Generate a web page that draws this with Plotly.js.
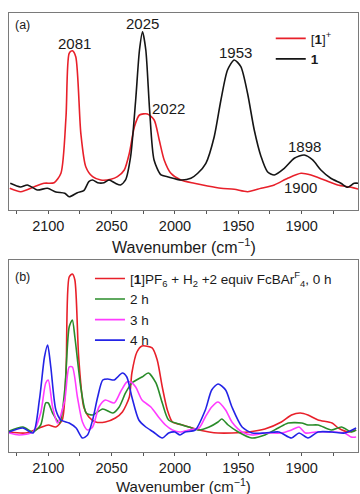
<!DOCTYPE html>
<html>
<head>
<meta charset="utf-8">
<script src="https://cdn.plot.ly/plotly-3.0.1.min.js"></script>
<style>html,body{margin:0;padding:0;background:#fff;}#chart{width:360px;height:494px;}</style>
</head>
<body>
<div id="chart"></div>
<script>
// ---------- Panel (a) ----------
const a_cat_wn = [2130,2122,2116.5,2108.6,2100.7,2094,2087,2083.5,2077,2072,2068,2065,2061,2056,2052,2047,2043,2039,2035,2031,2028,2025.6,2023,2020,2016.5,2011,2006,1995.3,1987.4,1982,1975.6,1969,1963.7,1958.5,1953.2,1948,1942.7,1937.4,1932,1927,1921.6,1913.7,1905.8,1897.9,1891.3,1884.8,1877,1869,1863.7,1858.5,1854.5];
const a_neutral = [26.7,23,25,20,21.7,18,16.7,13.3,17.3,19.3,28.3,30,27.3,27.3,30,26.7,25,30,53.3,110,160,178.3,160,100,50,35,33.3,30,31.7,36.7,46.7,73.3,110,140,150,143.3,116.7,80,53.3,38.3,35,41.7,51.7,55,50,40,31.7,26.7,22.7,26.7,26.7];

const a_cat_wn_ox = [2130.4,2121.7,2111,2103.3,2095.4,2090,2086,2083.5,2081,2078.3,2074.3,2070.4,2065,2058.5,2050.6,2045.4,2040,2036,2032,2028,2021.7,2016.4,2012.4,2008.5,2003.2,1995.3,1984.8,1974.3,1963.7,1953.2,1942.7,1932,1921.6,1911,1900.5,1892.6,1882,1871.6,1861,1854.5];
const a_cation = [21.7,18.3,23.3,26.7,27.3,36.7,93.3,156.7,159.3,153.3,76.7,43.3,33.3,30,30.7,33.3,40,56.7,83.3,95,96,90,70,50,36.7,30,26.7,24,21.7,20.7,18.3,21.7,25,31.7,36.7,35,30,25,22.7,20.7];

const a_label_text = ["2081","2025","1953","2022","1898","1900"];
const a_label_wn   = [2079,2025.4,1952,2004.8,1897.4,1901];
const a_label_y    = [167,187,158,101,63,22];

// ---------- Panel (b) ----------
const b_wn_0h = [2131,2118,2107,2100,2094,2089,2086,2083.5,2081,2079,2076,2072,2068,2062.5,2055,2047,2041.5,2036,2034,2030,2026,2018,2014,2010,2006,2002,1994,1989,1981,1973,1966,1955,1942,1929,1916,1908,1901,1895,1887,1876,1871,1863,1857];
const b_0h = [20,19,24,27,25,32,79,175,178,172,95,45,35,30,30,34,40,55,79,100,106,104,92,65,42,30,27,25,22,20,19,19,20,23,30,37,39,37,32,29,24,20,22];

const b_wn_2h = [2131,2120,2112,2106,2102,2100,2096.6,2091,2087,2083.5,2081,2079,2074,2070,2065,2057,2049,2044,2039,2034,2026,2021,2015,2010,2005,1997,1989,1981,1973,1966,1963,1958,1950,1939.4,1929,1918.5,1910.6,1900,1895,1887,1876.5,1868.6,1860.7,1857];
const b_2h = [21,25,20,27,49,49,39,29,62,125,132,115,62,39,37,43,39,45,59,69,75,79,69,49,32,28,25,22,25,30,33,27,20,14,17,24,29,29,27,27,22,25,20,22];

const b_wn_3h = [2131,2123,2112,2106,2102,2100,2096.6,2092.7,2087,2083.5,2081,2077,2073,2069,2065,2060,2055,2048,2043,2038,2035,2031,2026,2019,2013,2007.5,2002,1996,1989,1981,1976,1971,1966,1960,1955,1947,1939,1929,1916,1908,1902,1897,1889,1876,1866,1861,1857];
const b_3h = [19,17,20,39,69,72,45,29,52,85,85,55,30,22,25,45,52,49,60,70,70,65,52,45,35,27,22,20,22,24,35,45,50,42,30,20,17,19,19,22,25,19,20,20,19,15,15];

const b_wn_4h = [2131,2120,2112,2107,2103,2100.5,2098,2094,2090,2083.5,2078,2073,2069,2065,2061,2057,2053,2048,2041.5,2038,2034,2028.5,2023,2017,2010,2005,2000,1996,1992,1984,1976,1971,1966,1960,1955,1947,1939,1929,1918,1908,1902,1895,1887,1876,1866,1857];
const b_4h = [20,24,19,52,95,107,85,42,32,29,24,14,17,32,55,72,73,72,79,75,55,32,25,20,14,19,20,17,20,22,42,62,68,62,45,25,19,19,20,14,19,14,20,20,19,24];

const b_names = ["[<b>1</b>]PF<sub>6</sub> + H<sub>2</sub> +2 equiv FcBAr<sup>F</sup><sub>4</sub>, 0 h","2 h","3 h","4 h"];
const xTitle = "Wavenumber (cm<sup>−1</sup>)";

const FONT = "Arial, 'Liberation Sans', sans-serif";
const RED = "#e8202a", BLACK = "#151515", GREEN = "#2a8c2a", MAG = "#ff3cff", BLUE = "#2323e6";
const LW = 1.6;

const lineOpt = (c) => ({color: c, width: LW, shape: 'spline', smoothing: 0.7});

const traces = [
  {x: a_cat_wn_ox, y: a_cation, type: 'scatter', mode: 'lines', name: "[<b>1</b>]<sup>+</sup>", line: lineOpt(RED), xaxis: 'x', yaxis: 'y', legend: 'legend'},
  {x: a_cat_wn, y: a_neutral, type: 'scatter', mode: 'lines', name: "<b>1</b>", line: lineOpt(BLACK), xaxis: 'x', yaxis: 'y', legend: 'legend'},
  {x: b_wn_0h, y: b_0h, type: 'scatter', mode: 'lines', name: b_names[0], line: lineOpt(RED), xaxis: 'x2', yaxis: 'y2', legend: 'legend2'},
  {x: b_wn_2h, y: b_2h, type: 'scatter', mode: 'lines', name: b_names[1], line: lineOpt(GREEN), xaxis: 'x2', yaxis: 'y2', legend: 'legend2'},
  {x: b_wn_3h, y: b_3h, type: 'scatter', mode: 'lines', name: b_names[2], line: lineOpt(MAG), xaxis: 'x2', yaxis: 'y2', legend: 'legend2'},
  {x: b_wn_4h, y: b_4h, type: 'scatter', mode: 'lines', name: b_names[3], line: lineOpt(BLUE), xaxis: 'x2', yaxis: 'y2', legend: 'legend2'}
];

const xax = (anchor) => ({
  anchor: anchor, range: [2131, 1855.5], autorange: false,
  tick0: 2100, dtick: 50, ticks: 'outside', ticklen: 3, tickwidth: 1, tickcolor: '#555',
  minor: {tick0: 2125, dtick: 50, ticks: 'outside', ticklen: 3, tickwidth: 1, tickcolor: '#555'},
  showline: true, mirror: true, linecolor: '#7a7a7a', linewidth: 1,
  showgrid: false, zeroline: false,
  tickfont: {family: FONT, size: 14.5, color: '#1a1a1a'}
});
const yax = (domain, range, anchor) => ({
  domain: domain, range: range, anchor: anchor,
  showticklabels: false, ticks: '', showline: true, mirror: true,
  linecolor: '#7a7a7a', linewidth: 1, showgrid: false, zeroline: false
});

const annotations = [];
for (let i = 0; i < a_label_text.length; i++) {
  annotations.push({x: a_label_wn[i], y: a_label_y[i], xref: 'x', yref: 'y', text: a_label_text[i], showarrow: false,
    font: {family: FONT, size: 15, color: '#1a1a1a'}, xanchor: 'center', yanchor: 'middle'});
}
annotations.push({x: 2128, y: 185, xref: 'x', yref: 'y', text: '(a)', showarrow: false, xanchor: 'left', yanchor: 'middle', font: {family: FONT, size: 12.5, color: '#1a1a1a'}});
annotations.push({x: 2127.5, y: 175, xref: 'x2', yref: 'y2', text: '(b)', showarrow: false, xanchor: 'left', yanchor: 'middle', font: {family: FONT, size: 12.5, color: '#1a1a1a'}});
annotations.push({x: 0.5, y: 0.469, xref: 'paper', yref: 'paper', text: xTitle, showarrow: false, xanchor: 'center', yanchor: 'middle', font: {family: FONT, size: 16, color: '#1a1a1a'}});
annotations.push({x: 0.5, y: -0.0752, xref: 'paper', yref: 'paper', text: xTitle, showarrow: false, xanchor: 'center', yanchor: 'middle', font: {family: FONT, size: 15, color: '#1a1a1a'}});

const layout = {
  width: 360, height: 494,
  margin: {l: 9, r: 2, t: 13, b: 42},
  paper_bgcolor: '#fff', plot_bgcolor: '#fff',
  font: {family: FONT, color: '#1a1a1a'},
  xaxis: xax('y'),
  yaxis: yax([0.5513, 1], [0, 197], 'x'),
  xaxis2: xax('y2'),
  yaxis2: yax([0, 0.4374], [0, 192], 'x2'),
  showlegend: true,
  legend: {x: 0.75, y: 0.977, xanchor: 'left', yanchor: 'top', bgcolor: 'rgba(0,0,0,0)', borderwidth: 0,
    font: {family: FONT, size: 13.5, color: '#1a1a1a'}, tracegroupgap: 0, itemwidth: 30},
  legend2: {x: 0.232, y: 0.43, xanchor: 'left', yanchor: 'top', bgcolor: 'rgba(0,0,0,0)', borderwidth: 0,
    font: {family: FONT, size: 13.5, color: '#1a1a1a'}, tracegroupgap: 0, itemwidth: 30},
  annotations: annotations
};

Plotly.newPlot('chart', traces, layout, {displayModeBar: false, staticPlot: true});
</script>
</body>
</html>
